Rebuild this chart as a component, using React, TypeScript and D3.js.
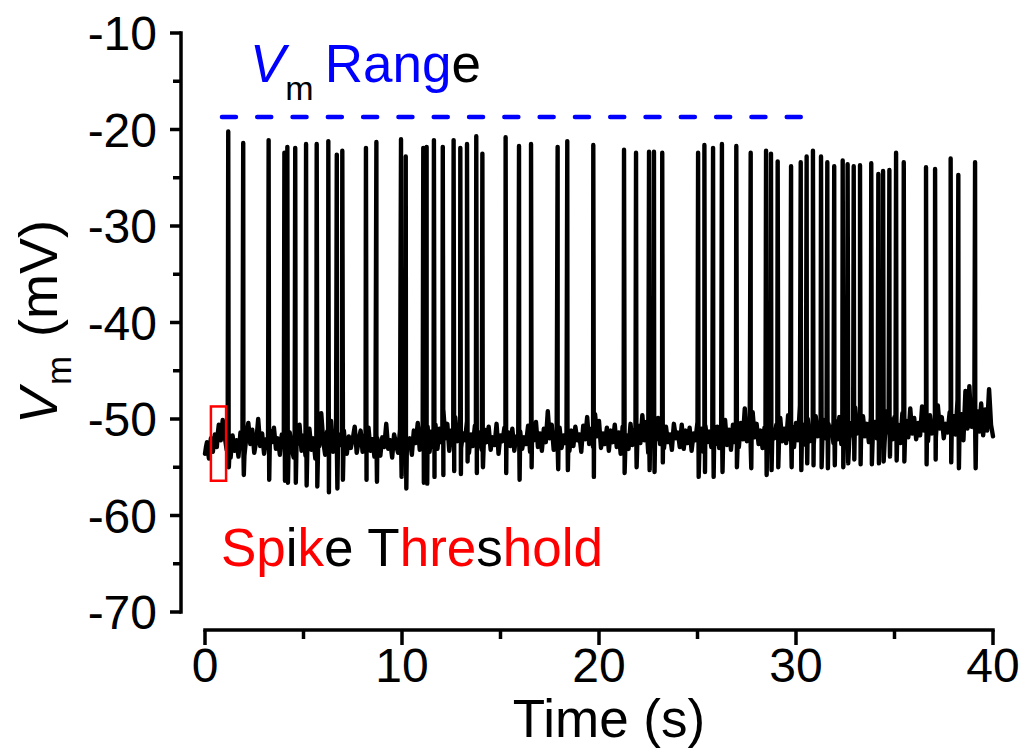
import React from 'react';
import * as d3 from 'd3';

// ---------- data ----------
const xTickValues = [0, 10, 20, 30, 40];
const xMinorValues = [5, 15, 25, 35];
const yTickValues = [-70, -60, -50, -40, -30, -20, -10];
const yMinorValues = [-65, -55, -45, -35, -25, -15];

const sampleStep = 0.1; // s, baseline sampling interval
// samples at t = i * 0.1 s
const baseline = [
  -53.6, -52.4, -54.1, -52.0, -53.4, -51.6, -52.9, -50.6, -52.2, -50.1, -51.8, -53.2, -52.0, -54.0, -51.7, -53.3, -52.2, -53.9, -51.4, -52.7,
  -53.8, -51.9, -50.4, -52.6, -51.1, -53.5, -52.3, -50.0, -52.8, -51.5, -53.6, -52.1, -53.0, -51.2, -52.4, -50.9, -53.1, -52.0, -53.7, -51.6,
  -52.5, -50.3, -53.0, -51.4, -52.9, -54.0, -51.8, -52.6, -50.6, -53.3, -51.7, -53.8, -52.4, -51.0, -53.2, -52.0, -54.1, -51.5, -52.8, -49.4,
  -52.2, -53.7, -51.3, -52.9, -50.2, -53.4, -52.0, -53.9, -51.6, -52.7, -49.9, -52.5, -53.6, -51.8, -53.0, -52.1, -50.8, -53.5, -52.3, -51.2,
  -53.4, -51.7, -52.8, -50.9, -53.3, -52.1, -53.9, -51.4, -52.6, -53.8, -51.9, -52.9, -50.5, -53.1, -52.2, -54.0, -51.6, -52.7, -53.5, -51.1,
  -52.8, -54.3, -51.5, -53.0, -52.0, -53.7, -51.2, -52.5, -50.4, -53.2, -51.8, -49.6, -52.6, -50.8, -53.4, -51.3, -52.9, -50.6, -53.1, -51.0,
  -52.4, -49.1, -52.0, -50.5, -53.3, -51.2, -52.7, -49.8, -52.3, -50.9, -53.0, -51.5, -52.2, -50.2, -53.5, -51.6, -52.8, -50.7, -53.1, -51.4,
  -52.6, -53.9, -51.1, -52.4, -50.8, -53.2, -51.9, -52.7, -50.5, -53.6, -51.7, -52.3, -50.9, -53.0, -51.4, -52.8, -51.0, -53.3, -51.8, -52.5,
  -51.3, -53.1, -51.9, -52.6, -50.7, -53.4, -51.6, -52.2, -50.3, -52.9, -51.5, -53.3, -51.0, -52.4, -49.2, -52.0, -50.6, -53.2, -51.4, -52.7,
  -50.9, -53.0, -51.7, -52.5, -50.4, -53.3, -51.2, -52.8, -50.8, -52.2, -51.6, -53.4, -50.7, -52.1, -49.8, -52.6, -51.0, -52.9, -49.5, -51.8,
  -50.2, -53.0, -51.5, -52.6, -50.9, -53.3, -51.2, -52.4, -50.6, -52.9, -51.4, -53.6, -50.8, -52.3, -51.7, -53.1, -50.5, -52.7, -51.1, -53.4,
  -50.7, -52.5, -49.6, -52.2, -50.3, -53.5, -51.0, -52.8, -50.4, -52.1, -49.9, -52.6, -51.3, -53.0, -50.8, -52.4, -51.6, -53.2, -50.5, -52.0,
  -51.4, -52.9, -50.6, -53.1, -51.2, -52.5, -50.9, -53.3, -51.5, -52.2, -50.3, -52.8, -51.0, -53.4, -50.7, -52.4, -51.3, -52.9, -50.2, -52.6,
  -50.8, -53.0, -51.4, -52.3, -50.1, -52.7, -51.1, -53.2, -50.6, -52.4, -51.0, -52.9, -50.4, -52.1, -48.9, -52.3, -50.7, -52.8, -49.3, -51.9,
  -50.5, -52.6, -51.2, -53.0, -50.9, -52.4, -50.2, -52.7, -51.3, -52.0, -50.6, -52.8, -49.9, -52.3, -51.0, -52.5, -49.6, -52.1, -50.8, -52.9,
  -50.4, -52.2, -48.6, -51.9, -50.6, -52.7, -50.0, -52.3, -50.9, -52.6, -49.7, -51.8, -50.5, -52.4, -50.1, -52.0, -49.4, -51.7, -50.8, -52.5,
  -50.2, -52.1, -49.8, -52.6, -50.7, -51.9, -49.5, -52.3, -50.4, -51.7, -48.8, -51.5, -50.1, -52.2, -49.7, -51.8, -50.5, -52.4, -49.9, -51.6,
  -50.3, -52.0, -49.6, -51.8, -50.8, -52.3, -49.2, -51.4, -50.0, -52.1, -49.8, -51.6, -50.6, -52.5, -49.4, -51.3, -50.2, -51.9, -48.9, -51.5,
  -49.9, -52.1, -50.4, -51.7, -48.7, -51.2, -50.0, -52.3, -49.6, -51.5, -50.3, -51.9, -48.6, -51.0, -49.8, -52.0, -50.5, -51.4, -49.3, -51.8,
  -49.7, -51.6, -48.0, -51.1, -49.5, -52.2, -47.1, -51.0, -46.6, -50.8, -49.9, -51.9, -49.2, -51.3, -48.4, -51.7, -49.0, -51.2, -46.9, -50.6,
  -51.8,
];
// samples at t = 0.05 + i * 0.1 s
const baselineMid = [
  -52.9, -53.3, -52.8, -53.0, -52.5, -52.6, -51.5, -51.3, -51.1, -51.0, -52.5, -52.6, -53.1, -52.8, -52.5, -52.7, -53.1, -52.6, -52.0, -53.3,
  -52.8, -51.1, -51.5, -51.8, -52.3, -52.9, -51.2, -51.4, -52.1, -52.6, -52.8, -52.5, -52.1, -51.8, -51.6, -52.0, -52.5, -52.8, -52.6, -52.0,
  -51.4, -51.7, -52.2, -52.1, -53.5, -52.9, -52.2, -51.6, -52.0, -52.5, -52.7, -53.1, -51.7, -52.1, -52.6, -53.0, -52.8, -52.1, -51.1, -50.8,
  -53.0, -52.5, -52.1, -51.5, -51.8, -52.7, -52.9, -52.7, -52.1, -51.3, -51.2, -53.0, -52.7, -52.4, -52.5, -51.4, -52.1, -52.9, -51.7, -52.3,
  -52.5, -52.2, -51.8, -52.1, -52.7, -53.0, -52.6, -52.0, -53.2, -52.8, -52.4, -51.7, -51.8, -52.6, -53.1, -52.8, -52.1, -53.1, -52.3, -52.0,
  -53.6, -52.9, -52.2, -52.5, -52.9, -52.4, -51.8, -51.4, -51.8, -52.5, -50.7, -51.1, -51.7, -52.1, -52.3, -52.1, -51.7, -51.8, -52.0, -51.7,
  -50.8, -50.5, -51.2, -51.9, -52.2, -51.9, -51.2, -51.0, -51.6, -51.9, -52.2, -51.8, -51.2, -51.8, -52.5, -52.2, -51.7, -51.9, -52.3, -52.0,
  -53.2, -52.5, -51.7, -51.6, -52.0, -52.5, -52.3, -51.6, -52.0, -52.6, -52.0, -51.6, -51.9, -52.2, -52.1, -51.9, -52.1, -52.5, -52.1, -51.9,
  -52.2, -52.5, -52.2, -51.6, -52.0, -52.5, -51.9, -51.2, -51.6, -52.2, -52.4, -52.1, -51.7, -50.8, -50.6, -51.3, -51.9, -52.3, -52.0, -51.8,
  -51.9, -52.3, -52.1, -51.4, -51.8, -52.2, -52.0, -51.8, -51.5, -51.9, -52.5, -52.0, -51.4, -50.9, -51.2, -51.8, -51.9, -51.2, -50.6, -51.0,
  -51.6, -52.2, -52.0, -51.7, -52.1, -52.2, -51.8, -51.5, -51.7, -52.1, -52.5, -52.2, -51.5, -52.0, -52.4, -51.8, -51.6, -51.9, -52.2, -52.0,
  -51.6, -51.0, -50.9, -51.2, -51.9, -52.2, -51.9, -51.6, -51.2, -51.0, -51.2, -51.9, -52.1, -51.9, -51.6, -52.0, -52.4, -51.8, -51.2, -51.7,
  -52.1, -51.7, -51.8, -52.1, -51.8, -51.7, -52.1, -52.4, -51.8, -51.2, -51.5, -51.9, -52.2, -52.0, -51.5, -51.8, -52.1, -51.5, -51.4, -51.7,
  -51.9, -52.2, -51.8, -51.1, -51.4, -51.9, -52.1, -51.9, -51.5, -51.7, -51.9, -51.6, -51.3, -50.5, -50.6, -51.5, -51.7, -51.0, -50.6, -51.2,
  -51.5, -51.9, -52.1, -51.9, -51.6, -51.3, -51.4, -52.0, -51.6, -51.3, -51.7, -51.3, -51.1, -51.6, -51.7, -51.0, -50.8, -51.4, -51.8, -51.6,
  -51.3, -50.4, -50.2, -51.2, -51.6, -51.3, -51.1, -51.6, -51.7, -51.1, -50.7, -51.1, -51.4, -51.2, -51.0, -50.7, -50.5, -51.2, -51.6, -51.3,
  -51.1, -50.9, -51.2, -51.6, -51.3, -50.7, -50.9, -51.3, -51.0, -50.2, -50.1, -50.8, -51.1, -50.9, -50.7, -51.1, -51.4, -51.1, -50.7, -50.9,
  -51.1, -50.8, -50.7, -51.3, -51.5, -50.7, -50.3, -50.7, -51.0, -50.9, -50.7, -51.1, -51.5, -50.9, -50.3, -50.7, -51.0, -50.5, -50.2, -50.6,
  -51.0, -51.2, -51.0, -50.2, -49.9, -50.6, -51.1, -50.9, -50.5, -50.9, -51.1, -50.3, -49.8, -50.4, -50.9, -51.2, -50.9, -50.3, -50.5, -50.7,
  -50.6, -49.8, -49.5, -50.3, -50.8, -49.6, -49.0, -48.8, -48.7, -50.3, -50.9, -50.5, -50.2, -49.8, -50.1, -50.3, -50.1, -48.9, -48.7, -51.2,
];

const spikeTimes = [
  1.18, 1.94, 3.23, 4.03, 4.18, 4.58, 5.13, 5.67, 6.26, 6.69, 6.97, 8.17, 8.70,
  9.95, 10.19, 11.08, 11.25, 11.62, 12.07, 12.62, 12.96, 13.30, 13.77, 14.08, 15.26, 15.94, 16.55, 17.90, 18.39, 19.71,
  21.27, 21.88, 22.54, 22.79, 23.21, 25.03, 25.35, 25.79, 26.24, 26.97, 27.70, 28.48, 28.73, 29.07, 29.75,
  30.24, 30.54, 30.86, 31.27, 31.59, 31.94, 32.37, 32.62, 32.93, 33.25, 33.82, 34.18, 34.42, 34.74, 35.08, 35.47,
  36.60, 37.06, 37.85, 38.24, 39.09,
];
const spikePeaks = [
  -20.2, -21.4, -21.1, -22.4, -21.8, -21.9, -21.5, -21.5, -21.2, -22.6, -22.2, -21.9, -21.3,
  -21.0, -22.8, -21.9, -21.8, -21.1, -21.8, -21.1, -21.9, -21.5, -20.7, -22.5, -20.8, -21.7, -21.5, -21.8, -21.2, -21.6,
  -22.1, -22.4, -22.3, -22.3, -22.4, -22.4, -21.6, -21.9, -21.5, -21.7, -22.4, -22.2, -22.5, -23.3, -23.8,
  -23.4, -22.8, -22.2, -22.8, -23.4, -23.8, -23.2, -23.6, -23.8, -23.7, -23.5, -24.6, -24.3, -24.2, -22.4, -23.4,
  -23.9, -24.1, -23.0, -24.7, -23.4,
];
const spikeTroughs = [
  -55.0, -55.8, -56.3, -56.4, -56.6, -56.6, -56.9, -57.0, -57.6, -57.2, -56.3, -56.3, -56.5,
  -56.0, -57.2, -56.6, -56.7, -56.0, -55.8, -55.4, -55.7, -54.4, -55.6, -55.0, -55.6, -56.3, -55.0, -55.2, -55.3, -56.0,
  -55.6, -55.0, -55.3, -55.5, -54.5, -56.0, -55.5, -56.0, -55.5, -55.0, -55.1, -55.8, -55.3, -55.0, -55.0,
  -55.3, -54.6, -54.8, -55.0, -55.1, -54.8, -55.0, -54.6, -54.2, -54.7, -54.7, -54.6, -54.4, -53.9, -54.3, -54.4,
  -54.7, -54.2, -54.5, -55.1, -55.1,
];

const rangeLevel = -18.7;
const rangeStart = 0.86;
const rangeEnd = 30.5;
const thresholdBoxT = [0.3, 1.07];
const thresholdBoxV = [-56.4, -48.7];

// ---------- layout ----------
const W = 1021;
const H = 749;
const FONT = '"Liberation Sans", Arial, Helvetica, sans-serif';

export default function App() {
  const x = d3.scaleLinear().domain([0, 40]).range([205, 993]);
  const y = d3.scaleLinear().domain([-70, -10]).range([612, 33]);
  const xAxisY = 630;
  const yAxisX = 181;

  type P = [number, number];
  const pts: P[] = baseline.map((v, i) => [i * sampleStep, v] as P);
  baselineMid.forEach((v, i) => pts.push([i * sampleStep + sampleStep / 2, v]));
  spikeTimes.forEach((t, i) => {
    pts.push([t, spikePeaks[i]]);
    pts.push([t + 0.03, spikeTroughs[i]]);
  });
  pts.sort((a, b) => a[0] - b[0]);

  const line = d3
    .line<P>()
    .x((d) => x(d[0]))
    .y((d) => y(d[1]));

  const tickFont = 48;
  const titleFont = 53;

  return (
    <svg
      width={W}
      height={H}
      style={{ position: 'absolute', left: 0, top: 0, background: '#fff' }}
      fontFamily={FONT}
    >
      {/* trace */}
      <path
        d={line(pts) || ''}
        fill="none"
        stroke="#000"
        strokeWidth={4.4}
        strokeLinejoin="round"
        strokeLinecap="round"
      />

      {/* Vm range dashed line */}
      <line
        x1={x(rangeStart)}
        x2={x(rangeEnd)}
        y1={y(rangeLevel)}
        y2={y(rangeLevel)}
        stroke="#0000ff"
        strokeWidth={4.5}
        strokeDasharray="14 21.3"
        strokeLinecap="round"
      />

      {/* threshold box */}
      <rect
        x={x(thresholdBoxT[0])}
        y={y(thresholdBoxV[1])}
        width={x(thresholdBoxT[1]) - x(thresholdBoxT[0])}
        height={y(thresholdBoxV[0]) - y(thresholdBoxV[1])}
        fill="none"
        stroke="#ff0000"
        strokeWidth={2.5}
      />

      {/* y axis */}
      <line x1={yAxisX} x2={yAxisX} y1={y(-10)} y2={y(-70)} stroke="#000" strokeWidth={3.5} strokeLinecap="square" />
      {yTickValues.map((v) => (
        <g key={'yt' + v}>
          <line x1={yAxisX - 11} x2={yAxisX} y1={y(v)} y2={y(v)} stroke="#000" strokeWidth={3.5} />
          <text
            x={yAxisX - 24}
            y={y(v)}
            dy="0.36em"
            textAnchor="end"
            fontSize={tickFont}
          >
            {v}
          </text>
        </g>
      ))}
      {yMinorValues.map((v) => (
        <line key={'ym' + v} x1={yAxisX - 8} x2={yAxisX} y1={y(v)} y2={y(v)} stroke="#000" strokeWidth={3.5} />
      ))}

      {/* x axis */}
      <line x1={x(0)} x2={x(40)} y1={xAxisY} y2={xAxisY} stroke="#000" strokeWidth={3.5} strokeLinecap="square" />
      {xTickValues.map((v) => (
        <g key={'xt' + v}>
          <line x1={x(v)} x2={x(v)} y1={xAxisY} y2={xAxisY + 15} stroke="#000" strokeWidth={3.5} />
          <text x={x(v)} y={xAxisY + 52} textAnchor="middle" fontSize={tickFont}>
            {v}
          </text>
        </g>
      ))}
      {xMinorValues.map((v) => (
        <line key={'xm' + v} x1={x(v)} x2={x(v)} y1={xAxisY} y2={xAxisY + 9} stroke="#000" strokeWidth={3.5} />
      ))}

      {/* axis titles */}
      <text x={(x(0) + x(40)) / 2 + 10} y={737} textAnchor="middle" fontSize={titleFont}>
        Time (s)
      </text>
      <text
        transform={`translate(57, 322) rotate(-90)`}
        textAnchor="middle"
        fontSize={54}
      >
        <tspan fontStyle="italic">V</tspan>
        <tspan fontSize={35} dy={14} dx={3}>m</tspan>
        <tspan dy={-14} dx={4}> (mV)</tspan>
      </text>

      {/* annotations */}
      <text x={250} y={82} fontSize={titleFont}>
        <tspan fill="#0000ff" fontStyle="italic">V</tspan>
        <tspan fill="#000" fontSize={34} dy={18}>m</tspan>
        <tspan fill="#0000ff" dy={-18} dx={11}>Rang</tspan>
        <tspan fill="#000">e</tspan>
      </text>
      <text x={221} y={566} fontSize={titleFont}>
        <tspan fill="#ff0000">Sp</tspan>
        <tspan fill="#000">i</tspan>
        <tspan fill="#ff0000">k</tspan>
        <tspan fill="#000">e T</tspan>
        <tspan fill="#ff0000">hre</tspan>
        <tspan fill="#000">s</tspan>
        <tspan fill="#ff0000">hold</tspan>
      </text>
    </svg>
  );
}
